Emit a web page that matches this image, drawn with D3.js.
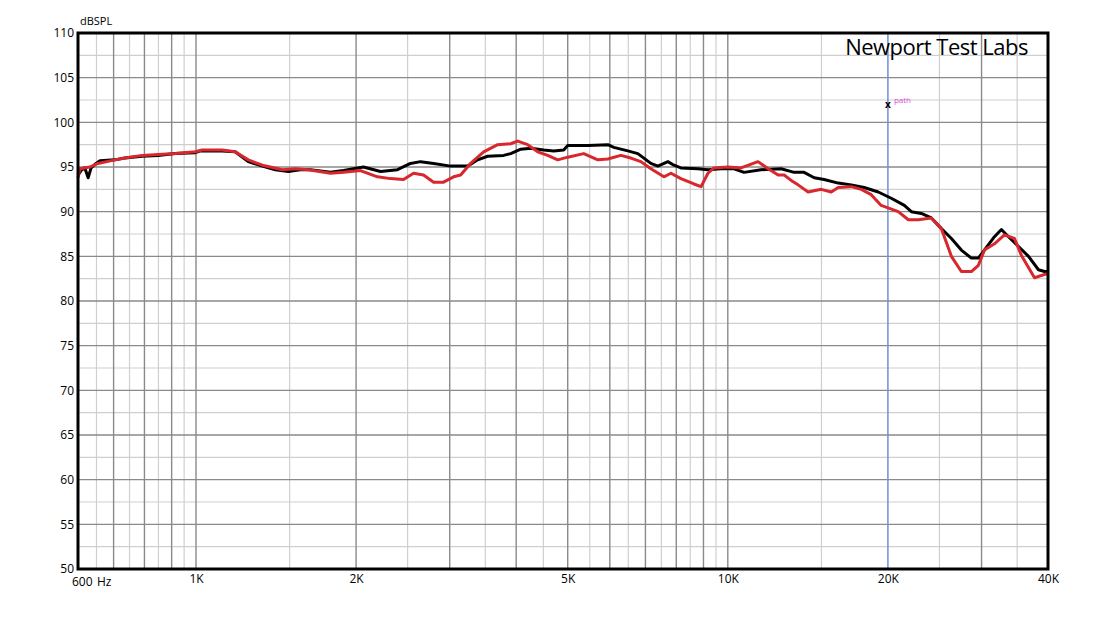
<!DOCTYPE html>
<html><head><meta charset="utf-8">
<script src="https://cdn.jsdelivr.net/npm/d3@7"></script>
<style>
html,body{margin:0;padding:0;background:#fff;}
svg text{font-family:"Open Sans","Noto Sans",sans-serif;}
</style></head>
<body><svg id="c" width="1110" height="625"></svg>
<script>
// ---- data ----
const blackFreq = [600,610,618,627,635,646,660,704,735,792,849,914,997,1019,1120,1185,1254,1333,1410,1492,1571,1641,1790,1894,2065,2223,2393,2531,2644,2798,3011,3242,3385,3535,3789,3906,4081,4261,4506,4706,4914,5000,5454,5948,6104,6487,6774,7167,7388,7715,7918,8163,8787,9177,9709,10273,10729,11547,12594,13326,13914,14538,15174,16128,17064,18048,19182,20292,21474,22134,23118,24138,25212,26328,27486,28704,29592,30372,31722,32694,33708,35202,36762,38382,39396,40000];
const blackDb = [94.1,94.7,94.9,93.8,94.9,95.3,95.7,95.8,96.0,96.2,96.3,96.5,96.6,96.8,96.8,96.7,95.6,95.1,94.7,94.5,94.7,94.7,94.4,94.6,95.0,94.5,94.7,95.4,95.6,95.4,95.1,95.1,95.8,96.2,96.3,96.5,97.0,97.1,96.9,96.8,96.9,97.4,97.4,97.5,97.2,96.8,96.5,95.4,95.1,95.6,95.2,94.9,94.8,94.7,94.8,94.8,94.4,94.7,94.8,94.4,94.4,93.8,93.6,93.2,93.0,92.7,92.2,91.5,90.7,90.0,89.8,89.3,88.1,87.0,85.7,84.8,84.8,85.7,87.2,88.0,87.2,86.1,85.0,83.5,83.3,83.3];
const redFreq = [600,605,632,654,704,735,792,849,914,997,1027,1120,1185,1254,1333,1454,1538,1627,1790,1894,2038,2194,2321,2456,2565,2678,2798,2921,3051,3145,3284,3475,3692,3906,4026,4205,4391,4585,4789,5000,5359,5696,5948,6293,6572,6863,7167,7583,7817,8163,8635,8906,9177,9418,10008,10587,11397,11907,12435,12762,13158,13554,14160,14982,15648,16128,17064,17820,18606,19428,20916,21846,22812,24138,25212,26328,27486,28704,29592,30372,31722,33126,34590,35658,37728,40000];
const redDb = [93.8,94.8,95.0,95.4,95.8,96.0,96.3,96.4,96.5,96.7,96.9,96.9,96.7,95.8,95.2,94.7,94.8,94.7,94.3,94.4,94.6,93.9,93.7,93.6,94.3,94.1,93.3,93.3,93.9,94.1,95.4,96.7,97.5,97.6,97.9,97.5,96.7,96.3,95.8,96.1,96.5,95.8,95.9,96.3,96.0,95.6,94.8,93.9,94.3,93.7,93.1,92.8,94.3,94.9,95.0,94.9,95.6,94.8,94.1,94.1,93.5,93.0,92.2,92.5,92.2,92.7,92.8,92.5,91.9,90.7,90.0,89.1,89.1,89.3,88.1,85.0,83.3,83.3,84.0,85.7,86.4,87.4,87.0,85.1,82.6,83.1];
const yTicks = [50,55,60,65,70,75,80,85,90,95,100,105,110];
const yMinor = [52.5,57.5,62.5,67.5,72.5,77.5,82.5,87.5,92.5,97.5,102.5,107.5];
const xLabels = [[1000,"1K"],[2000,"2K"],[5000,"5K"],[10000,"10K"],[20000,"20K"],[40000,"40K"]];
const xMajor = [700,800,900,1000,2000,3000,4000,5000,6000,7000,8000,9000,10000,30000];
const xMinor = [650,750,850,950,1500,2500,3500,4500,5500,6500,7500,8500,9500,15000,25000,35000];
const markerFreq = 20000;
const markerDb = 102.0;

// ---- scales ----
const L=78,R=1048,T=33,B=569;
const x = d3.scaleLog().domain([600,40000]).range([L,R]);
const y = d3.scaleLinear().domain([50,110]).range([B,T]);
const svg = d3.select("#c");

// grid
const g = svg.append("g");
g.selectAll(".ymin").data(yMinor).join("line").attr("x1",L).attr("x2",R)
 .attr("y1",d=>y(d)).attr("y2",d=>y(d)).attr("stroke","#cfcfcf").attr("stroke-width",1.2);
g.selectAll(".xmin").data(xMinor).join("line").attr("y1",T).attr("y2",B)
 .attr("x1",d=>x(d)).attr("x2",d=>x(d)).attr("stroke","#cfcfcf").attr("stroke-width",1.2);
g.selectAll(".ymaj").data(yTicks).join("line").attr("x1",L).attr("x2",R)
 .attr("y1",d=>y(d)).attr("y2",d=>y(d)).attr("stroke","#8a8a8a").attr("stroke-width",1.4);
g.selectAll(".xmaj").data(xMajor).join("line").attr("y1",T).attr("y2",B)
 .attr("x1",d=>x(d)).attr("x2",d=>x(d)).attr("stroke","#8a8a8a").attr("stroke-width",1.4);
// blue marker line
svg.append("line").attr("x1",x(markerFreq)).attr("x2",x(markerFreq)).attr("y1",T).attr("y2",B)
 .attr("stroke","#6f8fd6").attr("stroke-width",1.5);

// axes labels
const yAxis = d3.axisLeft(y).tickValues(yTicks).tickSize(0).tickPadding(4).tickFormat(d3.format("d"));
svg.append("g").attr("transform",`translate(${L},0)`).call(yAxis)
 .call(s=>s.select(".domain").remove())
 .selectAll("text").attr("font-size",12).attr("fill","#000").attr("font-family","Open Sans, sans-serif");
const xAxis = d3.axisBottom(x).tickValues(xLabels.map(d=>d[0])).tickSize(0).tickPadding(5)
 .tickFormat(d=>new Map(xLabels).get(d));
svg.append("g").attr("transform",`translate(0,${B})`).call(xAxis)
 .call(s=>s.select(".domain").remove())
 .selectAll("text").attr("font-size",12).attr("fill","#000").attr("font-family","Open Sans, sans-serif");
svg.append("text").attr("x",L-6).attr("y",B+17).attr("font-size",12).attr("fill","#000").text("600");
svg.append("text").attr("x",L+19).attr("y",B+17).attr("font-size",12).attr("fill","#000").text("Hz");
svg.append("text").attr("x",L+2).attr("y",T-8).attr("font-size",11).attr("fill","#000").text("dBSPL");

// curves
const line = d3.line().x(d=>x(d[0])).y(d=>y(d[1]));
svg.append("path").datum(blackFreq.map((f,i)=>[f,blackDb[i]])).attr("d",line)
 .attr("fill","none").attr("stroke","#000").attr("stroke-width",3).attr("stroke-linejoin","round");
svg.append("path").datum(redFreq.map((f,i)=>[f,redDb[i]])).attr("d",line)
 .attr("fill","none").attr("stroke","#d8272d").attr("stroke-width",3).attr("stroke-linejoin","round");

// border
svg.append("rect").attr("x",L).attr("y",T).attr("width",R-L).attr("height",B-T)
 .attr("fill","none").attr("stroke","#000").attr("stroke-width",3);

// title & marker label
svg.append("text").attr("x",R-20).attr("y",55).attr("text-anchor","end").attr("font-size",22)
 .attr("fill","#000").attr("letter-spacing","-0.5").text("Newport Test Labs");
svg.append("text").attr("x",x(markerFreq)).attr("y",y(markerDb)+3.5).attr("text-anchor","middle")
 .attr("font-size",10).attr("font-weight","bold").attr("fill","#000").text("x");
svg.append("text").attr("x",x(markerFreq)+6).attr("y",y(markerDb)-1)
 .attr("font-size",8).attr("fill","#d44fd4").text("path");
</script></body></html>
